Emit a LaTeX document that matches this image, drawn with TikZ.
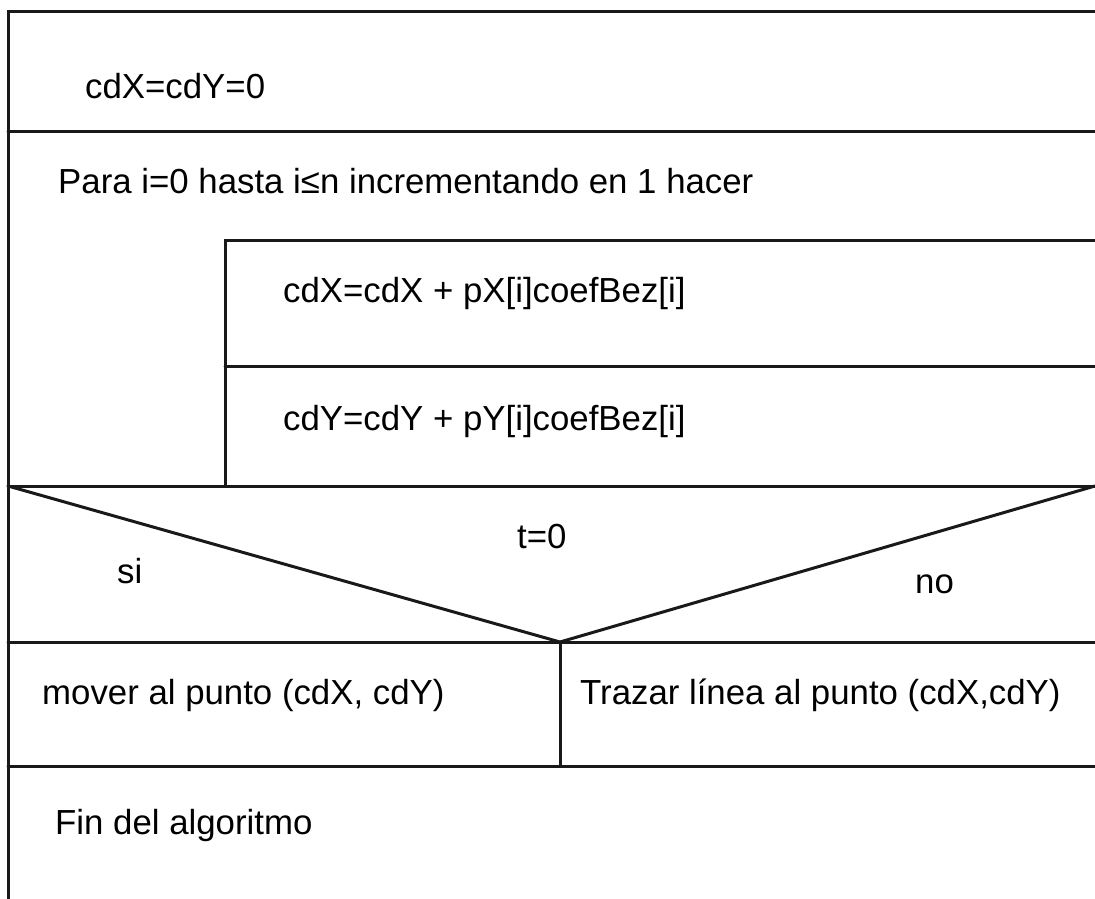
\documentclass[tikz,border=0pt]{standalone}
\usepackage{fontspec}
\setmainfont{Liberation Sans}
\begin{document}
\begin{tikzpicture}[x=1pt,y=-1pt,
  rule/.style={line width=3pt, black!90, line cap=round},
  label/.style={anchor=base west, inner sep=0pt, font=\fontsize{34.8}{40}\selectfont}]
\useasboundingbox (0,0) rectangle (1095,899);

% structure corners
\coordinate (tl) at (8,12);
\coordinate (tr) at (1095,12);
\coordinate (l1) at (8,131);
\coordinate (r1) at (1095,131);
\coordinate (il) at (225,240);
\coordinate (ir) at (1095,240);
\coordinate (iml) at (225,366);
\coordinate (imr) at (1095,366);
\coordinate (dl) at (8,486);
\coordinate (dr) at (1095,486);
\coordinate (db) at (8,642);
\coordinate (dbr) at (1095,642);
\coordinate (apex) at (560,642);
\coordinate (split) at (560,766);
\coordinate (el) at (8,766);
\coordinate (er) at (1095,766);
\coordinate (bl) at (8,899);

% outer frame and separators
\draw[rule] (tr) -- (tl) -- (bl);
\draw[rule] (l1) -- (r1);
\draw[rule] (ir) -- (il) -- (dl -| il);
\draw[rule] (iml) -- (imr);
\draw[rule] (dl) -- (dr);
\draw[rule] (db) -- (dbr);
\draw[rule] (el) -- (er);

% condition triangle and branch split
\draw[rule] (dl) -- (apex) -- (dr);
\draw[rule] (apex) -- (split);

% texts
\node[label] (init) at (85,98) {cdX=cdY=0};
\node[label] (loop) at (58,193) {Para i=0 hasta i≤n incrementando en 1 hacer};
\node[label] (sx) at (283,302) {cdX=cdX + pX[i]coefBez[i]};
\node[label] (sy) at (283,430) {cdY=cdY + pY[i]coefBez[i]};
\node[label] (cond) at (517,548) {t=0};
\node[label] (yes) at (117,583) {si};
\node[label] (no) at (915,593) {no};
\node[label] (move) at (42,704) {mover al punto (cdX, cdY)};
\node[label] (line) at (580,704) {Trazar línea al punto (cdX,cdY)};
\node[label] (fin) at (55,834) {Fin del algoritmo};
\end{tikzpicture}
\end{document}
